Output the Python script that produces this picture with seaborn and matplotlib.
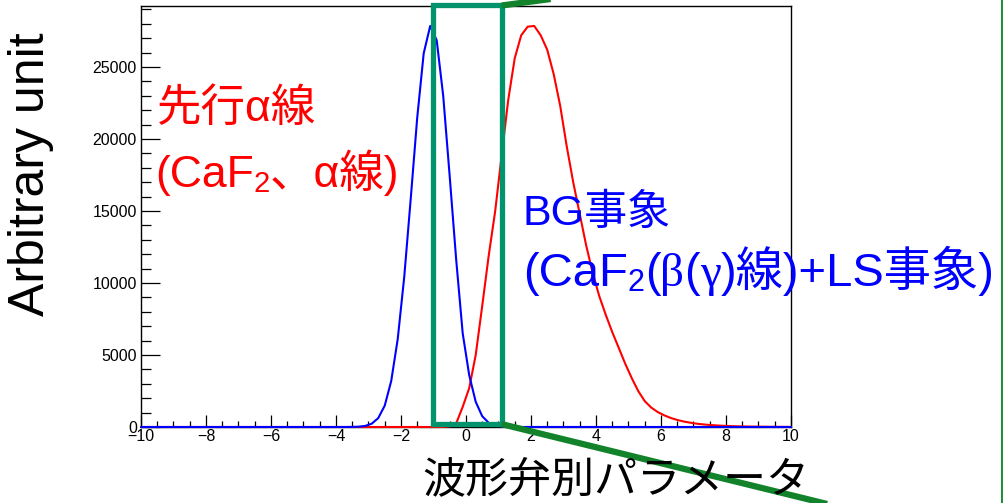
import matplotlib
matplotlib.use("Agg")
import matplotlib.pyplot as plt
from matplotlib.lines import Line2D
from matplotlib.patches import Rectangle
from matplotlib.ticker import MultipleLocator
import seaborn as sns
import pandas as pd

# Pulse-shape-discrimination parameter (bin centres) and counts per bin
alpha_x = [-10.0, -3.9, -3.7, -3.5, -3.3, -3.1, -2.9, -2.7, -2.5, -2.3, -2.1,
           -1.9, -1.7, -1.5, -1.3, -1.1, -0.9, -0.7, -0.5, -0.3, -0.1, 0.1,
           0.3, 0.5, 0.7, 0.9, 1.1, 1.3, 1.5, 10.0]
alpha_counts = [0, 0, 1, 6, 22, 75, 228, 615, 1480, 3190, 6100,
                10400, 15830, 21470, 25950, 27850, 26850, 23000, 17400, 11600, 6500, 3600,
                1750, 750, 290, 100, 30, 9, 2, 0]

bg_x = [-10.0, -0.9, -0.7, -0.5, -0.3, -0.1, 0.1, 0.3, 0.5, 0.7, 0.9,
        1.1, 1.3, 1.5, 1.7, 1.9, 2.1, 2.3, 2.5, 2.7, 2.9,
        3.1, 3.3, 3.5, 3.7, 3.9, 4.1, 4.3, 4.5, 4.7, 4.9,
        5.1, 5.3, 5.5, 5.7, 5.9, 6.1, 6.3, 6.5, 6.7, 6.9,
        7.1, 7.3, 7.5, 7.7, 7.9, 8.1, 8.3, 8.5, 8.7, 8.9,
        9.1, 9.3, 9.5, 9.7, 9.9, 10.0]
bg_counts = [0, 0, 5, 40, 250, 1400, 2700, 5000, 8400, 11900, 15000,
             18900, 22700, 25600, 27200, 27800, 27850, 27200, 26200, 24500, 22300,
             19500, 17000, 14800, 12600, 10700, 9100, 7800, 6600, 5500, 4400,
             3400, 2500, 1800, 1350, 1040, 810, 630, 490, 380, 300,
             230, 180, 140, 110, 85, 65, 50, 40, 30, 25,
             20, 15, 12, 9, 7, 0]

# Selection window drawn over the overlap region
cut_low, cut_high = -1.0, 1.1
x_range = (-10, 10)
y_max = 29236

alpha_df = pd.DataFrame({"psd": alpha_x, "counts": alpha_counts})
bg_df = pd.DataFrame({"psd": bg_x, "counts": bg_counts})

sns.set_theme(style="white")
SANS = ["Liberation Sans", "Noto Sans CJK JP", "DejaVu Sans"]
SERIF = ["Liberation Serif", "DejaVu Serif"]
plt.rcParams["font.family"] = SANS
plt.rcParams["axes.unicode_minus"] = True

fig = plt.figure(figsize=(10.04, 5.03), dpi=100)
ax = fig.add_axes([0.1404, 0.1511, 0.6474, 0.837])

sns.lineplot(data=bg_df, x="psd", y="counts", color="#ff0000", linewidth=1.5,
             sort=False, estimator=None, ax=ax, clip_on=False, zorder=3)
sns.lineplot(data=alpha_df, x="psd", y="counts", color="#0000ff", linewidth=1.5,
             sort=False, estimator=None, ax=ax, clip_on=False, zorder=4)

ax.set_xlim(*x_range)
ax.set_ylim(0, y_max)
ax.set_xlabel("")
ax.set_ylabel("")

ax.xaxis.set_major_locator(MultipleLocator(2))
ax.xaxis.set_minor_locator(MultipleLocator(0.5))
ax.yaxis.set_major_locator(MultipleLocator(5000))
ax.yaxis.set_minor_locator(MultipleLocator(1000))
ax.tick_params(axis="both", which="both", direction="in", color="black",
               top=False, right=False, labelsize=11.5, labelcolor="black")
ax.tick_params(axis="x", which="major", length=9, width=0.9, pad=1.5)
ax.tick_params(axis="x", which="minor", length=4.5, width=0.9)
ax.tick_params(axis="y", which="major", length=14, width=0.9, pad=3)
ax.tick_params(axis="y", which="minor", length=7, width=0.9)
ax.xaxis.set_ticks_position("bottom")
ax.yaxis.set_ticks_position("left")
for sp in ax.spines.values():
    sp.set_color("black")
    sp.set_linewidth(1.0)

# Selection window and the guide lines leading out of it
win = Rectangle((cut_low, 200), cut_high - cut_low, 29070, fill=False,
                edgecolor="#00936c", linewidth=3.8, clip_on=False, zorder=6)
ax.add_patch(win)
ax.add_line(Line2D([cut_high, 13.5], [200, 200 - 554 * (13.5 - cut_high)],
                   color="#12832a", linewidth=4.5, clip_on=False, zorder=7,
                   solid_capstyle="butt"))
ax.add_line(Line2D([cut_high, 5.0], [29270, 29270 + 300 * (5.0 - cut_high)],
                   color="#12832a", linewidth=4.5, clip_on=False, zorder=7,
                   solid_capstyle="butt"))
fig.add_artist(Line2D([1002 / 1004, 1002 / 1004], [0, 1], transform=fig.transFigure,
                      color="#1f8f3a", linewidth=1.5))

W, H = 1004, 503


def ftext(px, py, s, **kw):
    return fig.text(px / W, 1 - py / H, s, family=SANS, **kw)


def chained(px, py, pieces, color):
    """Write a line made of pieces (text, size, family, dy) placed one after another."""
    first_s, first_size, first_fam, _ = pieces[0]
    first = fig.text(px / W, 1 - py / H, first_s, fontsize=first_size,
                     family=first_fam, color=color, ha="left", va="baseline")
    prev = first
    for s, sz, fam, dy in pieces[1:]:
        prev = ax.annotate(s, xy=(1, 0), xycoords=(prev, first),
                           xytext=(0, dy), textcoords="offset points",
                           ha="left", va="bottom", fontsize=sz, family=fam,
                           color=color, annotation_clip=False)
    return first


ftext(157, 109, "先行α線", color="#ff0000", fontsize=32, ha="left", va="center")
chained(155, 187, [("(CaF", 32, SANS, 0), ("2", 21, SANS, -1.5),
                   ("、α線)", 32, SANS, 0)], "#ff0000")

ftext(523, 214, "BG事象", color="#0000ff", fontsize=31, ha="left", va="center")
chained(523, 286, [("(CaF", 34, SANS, 0), ("2", 22, SANS, -1.5),
                   ("(", 34, SANS, 0), ("β", 34, SERIF, 0), ("(", 34, SANS, 0),
                   ("γ", 34, SERIF, 0), (")線)+LS事象)", 34, SANS, 0)], "#0000ff")

ftext(616, 481, "波形弁別パラメータ", color="black", fontsize=31, ha="center", va="center")
ftext(31, 174, "Arbitrary unit", color="black", fontsize=36, ha="center", va="center",
      rotation=90)

fig.savefig("out.png", dpi=100)
